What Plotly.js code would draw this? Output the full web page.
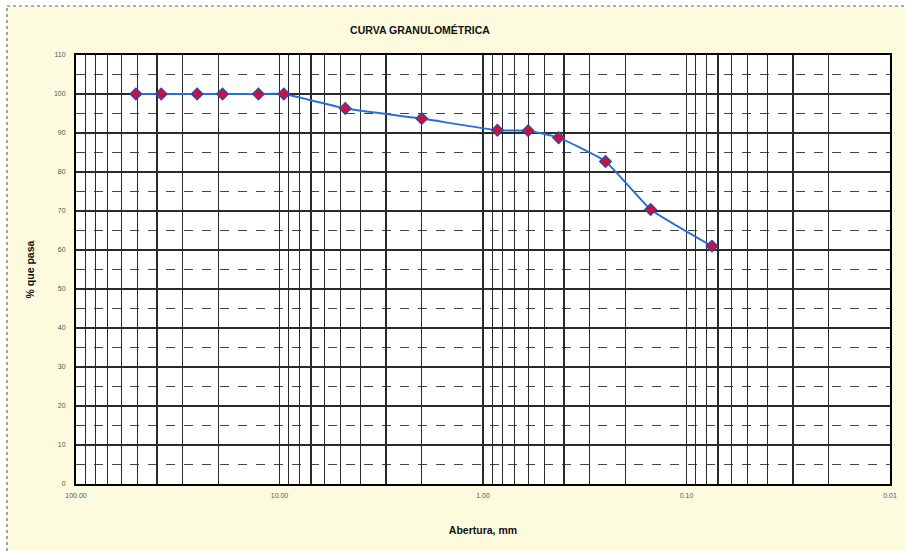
<!DOCTYPE html>
<html>
<head>
<meta charset="utf-8">
<script src="https://cdn.plot.ly/plotly-3.0.1.min.js"></script>
<style>html,body{margin:0;padding:0;background:#fff;}#chart{width:906px;height:551px;}</style>
</head>
<body>
<div id="chart"></div>
<script>
// Sieve apertures (mm) and percent passing
const aperture = [50.8, 38.1, 25.4, 19.05, 12.7, 9.525, 4.75, 2.0, 0.85, 0.6, 0.425, 0.25, 0.15, 0.075];
const passing  = [100, 100, 100, 100, 100, 100, 96.3, 93.7, 90.7, 90.6, 88.8, 82.7, 70.4, 61.0];

// Axis tick labels
const xDecades = [100, 10, 1, 0.1, 0.01];
const xDecadeText = ["100.00", "10.00", "1.00", "0.10", "0.01"];
const yTickVals = [0, 10, 20, 30, 40, 50, 60, 70, 80, 90, 100, 110];

// log grid positions: decades labelled, 2..9 of each decade unlabelled
const xGridVals = [], xGridText = [];
xDecades.forEach((d, i) => { xGridVals.push(d); xGridText.push(xDecadeText[i]); });
[0.01, 0.1, 1, 10].forEach(d => {
  for (let k = 2; k <= 9; k++) { xGridVals.push(+(k * d).toPrecision(3)); xGridText.push(''); }
});

const cream = '#fdfbde';
const gridC = '#2a2a2a';

const trace = {
  x: aperture, y: passing, type: 'scatter', mode: 'lines+markers',
  line: {color: '#2b6fd6', width: 2, shape: 'spline', smoothing: 0.4},
  marker: {symbol: 'diamond', size: 9, color: '#c8143c', line: {color: '#2a45b8', width: 1.2}},
  hoverinfo: 'x+y', showlegend: false
};

const L = 76, R = 890, T = 55, B = 484, W = 906, H = 551;
const px2x = p => (p - L) / (R - L);
const px2y = p => (B - p) / (B - T);

const layout = {
  width: W, height: H,
  margin: {l: L, r: W - R, t: T, b: H - B, pad: 0},
  paper_bgcolor: cream, plot_bgcolor: '#ffffff',
  font: {family: 'Liberation Sans, Arial, sans-serif', color: '#222'},
  title: {text: '<b>CURVA GRANULOMÉTRICA</b>', font: {size: 10.5, color: '#111'},
          x: 420 / W, xanchor: 'center', xref: 'container', y: 1 - 30 / H, yanchor: 'middle', yref: 'container'},
  xaxis: {
    type: 'log', range: [2, -2], autorange: false,
    tickmode: 'array', tickvals: xGridVals, ticktext: xGridText,
    tickfont: {size: 7, color: '#555'}, ticks: '', ticklabelstandoff: 4,
    showgrid: true, gridcolor: gridC, gridwidth: 1.2,
    showline: true, linecolor: '#000', linewidth: 2, mirror: true, zeroline: false,
    title: {text: '<b>Abertura, mm</b>', font: {size: 10.5, color: '#111'}, standoff: 28}
  },
  yaxis: {
    range: [0, 110], autorange: false,
    tickmode: 'array', tickvals: yTickVals,
    tickfont: {size: 7, color: '#555'}, ticks: '', ticklabelstandoff: 7,
    showgrid: true, gridcolor: gridC, gridwidth: 1.3,
    minor: {dtick: 5, showgrid: true, gridcolor: '#444', gridwidth: 1, griddash: 'dash', ticks: ''},
    showline: true, linecolor: '#000', linewidth: 2, mirror: true, zeroline: false,
    title: {text: '<b>% que pasa</b>', font: {size: 10.5, color: '#111'}, standoff: 17}
  },
  shapes: [
    {type: 'rect', xref: 'paper', yref: 'paper', layer: 'below',
     x0: px2x(0), x1: px2x(7), y0: px2y(H), y1: px2y(0), fillcolor: '#ffffff', line: {width: 0}},
    {type: 'rect', xref: 'paper', yref: 'paper', layer: 'below',
     x0: px2x(0), x1: px2x(W), y0: px2y(6), y1: px2y(0), fillcolor: '#ffffff', line: {width: 0}},
    {type: 'line', xref: 'paper', yref: 'paper', x0: px2x(7), x1: px2x(7), y0: px2y(H), y1: px2y(6),
     line: {color: '#666', width: 1.2, dash: 'dot'}},
    {type: 'line', xref: 'paper', yref: 'paper', x0: px2x(7), x1: px2x(W), y0: px2y(6), y1: px2y(6),
     line: {color: '#666', width: 1.2, dash: 'dot'}}
  ]
};

Plotly.newPlot('chart', [trace], layout, {displayModeBar: false, staticPlot: true});
</script>
</body>
</html>
